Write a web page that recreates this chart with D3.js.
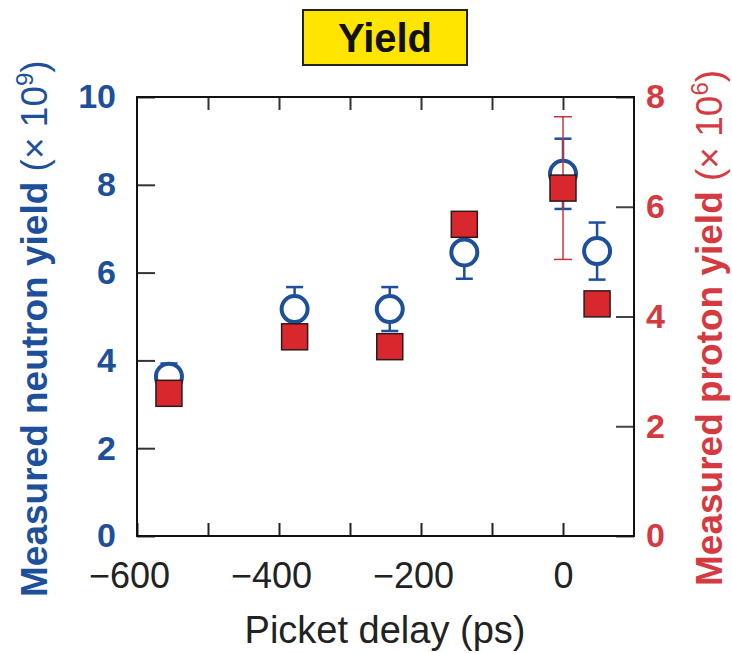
<html>
<head>
	<meta charset="utf-8">
	<title>Yield</title>
	<script src="https://d3js.org/d3.v7.min.js"></script>
	<style type="text/css">
		body {
			margin: 0;
			padding: 0;
			background: #fff;
		}
		text {
			font-family: "Liberation Sans", Arial, Helvetica, sans-serif;
		}
	</style>
</head>
<body>

<div id="chart"></div>

<script>

// picket delay (ps) of each shot
var delays = [-555, -378, -244, -139, 0, 48];
// neutron yield (x 10^9) and its error bar
var neutronYield = [3.63, 5.17, 5.17, 6.46, 8.25, 6.49];
var neutronErr = [0.3, 0.5, 0.5, 0.6, 0.8, 0.65];
// proton yield (x 10^6), only one shot has an error bar
var protonYield = [2.6, 3.63, 3.45, 5.68, 6.34, 4.23];
var protonErr = [0, 0, 0, 0, 1.3, 0];

var xTicks = [-500, -400, -300, -200, -100, 0];
var xLabels = [-600, -400, -200, 0];
var leftTicks = [0, 2, 4, 6, 8, 10];
var rightTicks = [0, 2, 4, 6, 8];

var blue = "#1d4f9b",
	red = "#d8282e",
	redText = "#d43a3f";

var ww = 732,
	wh = 653;

// plot frame (note: "top" is reserved on window)
var pLeft = 137, pRight = 634, pTop = 97, pBottom = 536;

var x = d3.scaleLinear().domain([-600, 100]).range([pLeft, pRight]);
var yL = d3.scaleLinear().domain([0, 10]).range([pBottom, pTop]);
var yR = d3.scaleLinear().domain([0, 8]).range([pBottom, pTop]);

var svg = d3.select("#chart").append("svg")
	.attr("width", ww)
	.attr("height", wh);

// title box
svg.append("rect")
	.attr("x", 303).attr("y", 10)
	.attr("width", 164).attr("height", 55)
	.attr("fill", "#ffe500")
	.attr("stroke", "#222")
	.attr("stroke-width", 2);
svg.append("text")
	.attr("x", 385).attr("y", 52)
	.attr("text-anchor", "middle")
	.attr("font-size", 40)
	.attr("font-weight", "bold")
	.attr("fill", "#111")
	.text("Yield");

// bottom axis (ticks inward, labels only every 200)
var fmt = d3.format("d");
var allX = [-600].concat(xTicks);
var gx = svg.append("g")
	.attr("transform", "translate(0," + pBottom + ")")
	.call(d3.axisBottom(x)
		.tickValues(allX)
		.tickSizeInner(-13)
		.tickSizeOuter(0)
		.tickPadding(26)
		.tickFormat(function(d) { return xLabels.indexOf(d) >= 0 ? fmt(d) : ""; }));
gx.select(".domain").remove();
gx.selectAll("text")
	.attr("font-size", 36)
	.attr("fill", "#222")
	.attr("dx", function(d) { return d < 0 ? "-0.22em" : 0; });
gx.selectAll("line").attr("stroke", "#222").attr("stroke-width", 2);

// top ticks
var gt = svg.append("g")
	.attr("transform", "translate(0," + pTop + ")")
	.call(d3.axisTop(x).tickValues(xTicks).tickSizeInner(-13).tickSizeOuter(0).tickFormat(""));
gt.select(".domain").remove();
gt.selectAll("line").attr("stroke", "#333").attr("stroke-width", 2);

// left axis (neutron)
var gl = svg.append("g")
	.attr("transform", "translate(" + pLeft + ",0)")
	.call(d3.axisLeft(yL).tickValues(leftTicks).tickSizeInner(-18).tickSizeOuter(0).tickPadding(21));
gl.select(".domain").remove();
gl.selectAll("text")
	.attr("font-size", 34)
	.attr("font-weight", "bold")
	.attr("fill", blue);
gl.selectAll("line").attr("stroke", "#333").attr("stroke-width", 2);

// right axis (proton)
var gr = svg.append("g")
	.attr("transform", "translate(" + pRight + ",0)")
	.call(d3.axisRight(yR).tickValues(rightTicks).tickSizeInner(-18).tickSizeOuter(0).tickPadding(12));
gr.select(".domain").remove();
gr.selectAll("text")
	.attr("font-size", 34)
	.attr("font-weight", "bold")
	.attr("fill", redText);
gr.selectAll("line").attr("stroke", "#444").attr("stroke-width", 2);

// frame
svg.append("rect")
	.attr("x", pLeft).attr("y", pTop)
	.attr("width", pRight - pLeft).attr("height", pBottom - pTop)
	.attr("fill", "none")
	.attr("stroke", "#111")
	.attr("stroke-width", 2);

// axis titles
svg.append("text")
	.attr("x", 385).attr("y", 643)
	.attr("text-anchor", "middle")
	.attr("font-size", 38)
	.attr("fill", "#222")
	.text("Picket delay (ps)");

function yTitle(tx, ty, word, exp, color) {
	var t = svg.append("text")
		.attr("transform", "translate(" + tx + "," + ty + ") rotate(-90)")
		.attr("font-size", 37)
		.attr("fill", color);
	t.append("tspan").attr("font-weight", "bold").text("Measured " + word + " yield ");
	t.append("tspan").text("(\u00d7 10");
	t.append("tspan").attr("font-size", 24).attr("dy", -14).text(exp);
	t.append("tspan").attr("dy", 14).text(")");
}
yTitle(47, 597, "neutron", "9", blue);
yTitle(722, 586, "proton", "6", redText);

// data
var pts = delays.map(function(d, i) {
	return { d: d, n: neutronYield[i], ne: neutronErr[i], p: protonYield[i], pe: protonErr[i] };
});

// neutron error bars
var nb = svg.append("g").attr("stroke", blue).attr("stroke-width", 2.5);
pts.forEach(function(p) {
	var cx = x(p.d), y0 = yL(p.n - p.ne), y1 = yL(p.n + p.ne);
	nb.append("line").attr("x1", cx).attr("x2", cx).attr("y1", y0).attr("y2", y1);
	nb.append("line").attr("x1", cx - 8.5).attr("x2", cx + 8.5).attr("y1", y0).attr("y2", y0);
	nb.append("line").attr("x1", cx - 8.5).attr("x2", cx + 8.5).attr("y1", y1).attr("y2", y1);
});

// neutron circles
svg.append("g").selectAll("circle")
	.data(pts)
	.join("circle")
	.attr("cx", function(p) { return x(p.d); })
	.attr("cy", function(p) { return yL(p.n); })
	.attr("r", 13)
	.attr("fill", "#fff")
	.attr("stroke", blue)
	.attr("stroke-width", 4);

// proton error bars
var pb = svg.append("g").attr("stroke", "#c8353a").attr("stroke-width", 1.5);
pts.filter(function(p) { return p.pe > 0; }).forEach(function(p) {
	var cx = x(p.d), y0 = yR(p.p - p.pe), y1 = yR(p.p + p.pe);
	pb.append("line").attr("x1", cx).attr("x2", cx).attr("y1", y0).attr("y2", y1);
	pb.append("line").attr("x1", cx - 9).attr("x2", cx + 9).attr("y1", y0).attr("y2", y0);
	pb.append("line").attr("x1", cx - 9).attr("x2", cx + 9).attr("y1", y1).attr("y2", y1);
});

// proton squares
svg.append("g").selectAll("rect")
	.data(pts)
	.join("rect")
	.attr("x", function(p) { return x(p.d) - 13; })
	.attr("y", function(p) { return yR(p.p) - 13; })
	.attr("width", 26)
	.attr("height", 26)
	.attr("fill", red)
	.attr("stroke", "#2d1a1a")
	.attr("stroke-width", 1.5);

</script>
</body>
</html>
